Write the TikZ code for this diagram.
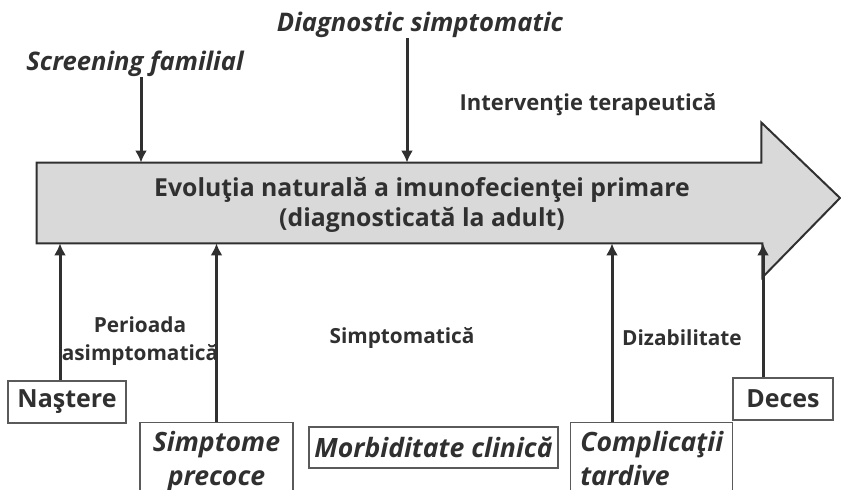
\documentclass[tikz,border=0pt]{standalone}
\usepackage{fontspec}
\setmainfont{Open Sans}
\usetikzlibrary{positioning,arrows.meta,calc}
\definecolor{ink}{HTML}{303030}
\definecolor{arrowgray}{HTML}{D9D9D9}
\definecolor{boxline}{HTML}{5A5A5A}

\begin{document}
\begin{tikzpicture}[x=0.5pt,y=-0.5pt,
  lbl/.style={font=\bfseries\fontsize{12.4}{15}\selectfont,text=ink,inner sep=0pt},
  ilbl/.style={lbl,font=\bfseries\itshape\fontsize{12.8}{15}\selectfont},
  boxtxt/.style={font=\bfseries\fontsize{12.5}{17}\selectfont,text=ink},
  iboxtxt/.style={font=\bfseries\itshape\fontsize{13.3}{17}\selectfont,text=ink},
  small/.style={font=\bfseries\fontsize{10.4}{14}\selectfont,text=ink,inner sep=0pt,align=center},
  evbox/.style={draw=boxline,line width=0.7pt,fill=white,inner sep=0pt},
  conn/.style={draw=ink,line width=1.5pt,-{Latex[length=6pt,width=6pt]}}]
\useasboundingbox (0,0) rectangle (841,490);
% main timeline arrow
\node[minimum width=362pt,minimum height=40pt,inner sep=0pt] (body) at (399,203) {};
\draw[draw=ink,line width=1pt,fill=arrowgray,line join=miter]
  (body.south west) -- (body.north west) -- (body.north east) -- ++(0,-40)
  -- (840,198) -- ($(body.south east)+(1,34)$) -- ($(body.south east)+(1,0)$) -- cycle;
\node[lbl,align=center] (evol) at (422,205) {Evoluţia naturală a imunofecienţei primare\\(diagnosticată la adult)};
% labels above
\node[ilbl] (diag) at (420,25) {Diagnostic simptomatic};
\node[ilbl] (scr) at (135,64) {Screening familial};
\node[lbl,font=\bfseries\fontsize{11}{14}\selectfont] (interv) at (588,105) {Intervenţie terapeutică};
\draw[conn] ([xshift=3pt]scr.south) -- ([xshift=3pt]scr.south |- body.north);
\draw[conn] ([xshift=-6.5pt]diag.south) -- ([xshift=-6.5pt]diag.south |- body.north);
% events below
\node[evbox,boxtxt,minimum width=59pt,minimum height=21pt] (nast) at (67,402) {Naştere};
\node[evbox,iboxtxt,align=center,anchor=north,minimum width=76.5pt,inner ysep=4.5pt,text depth=30pt] (prec) at (216.5,422) {Simptome\\precoce};
\node[evbox,iboxtxt,minimum width=124.5pt,minimum height=20.5pt] (morb) at (433.5,447.5) {Morbiditate clinică};
\node[evbox,iboxtxt,align=left,anchor=north west,minimum width=81pt,inner ysep=4.5pt,text depth=30pt,inner xsep=4pt] (compl) at (570,422) {Complicaţii\\tardive};
\node[evbox,boxtxt,minimum width=50pt,minimum height=21pt] (deces) at (783,399) {Deces};
\draw[conn] ([xshift=-3.5pt]nast.north) -- ([xshift=-3.5pt]nast.north |- body.south);
\draw[conn] (prec.north) -- (prec.north |- body.south);
\draw[conn] ([xshift=21pt]compl.north west) -- ([xshift=21pt]compl.north west |- body.south);
\draw[conn] ([xshift=-10pt]deces.north) -- ([xshift=-10pt]deces.north |- body.south);
% periods
\node[small] (asimpt) at (140,341) {Perioada\\asimptomatică};
\node[small] (simpt) at (402,338) {Simptomatică};
\node[small] (dizab) at (682,338) {Dizabilitate};
\end{tikzpicture}
\end{document}
